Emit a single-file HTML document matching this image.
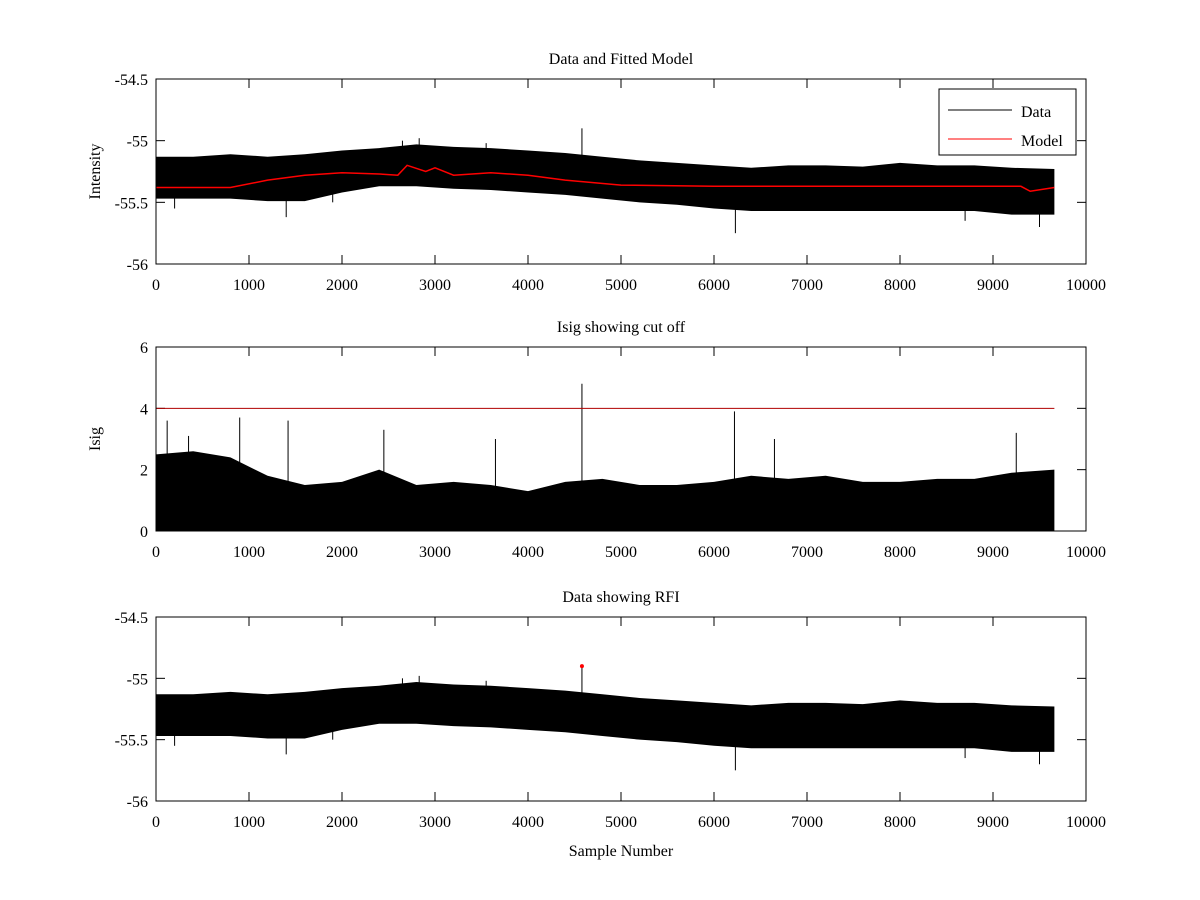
<!DOCTYPE html>
<html><head><meta charset="utf-8"><style>
body{margin:0;background:#fff}
svg{display:block;font-family:"Liberation Serif",serif;font-size:16px}
</style></head><body>
<svg id="chart" width="1200" height="900"></svg>
<script>
const xTicks=[0,1000,2000,3000,4000,5000,6000,7000,8000,9000,10000];
const binX=[0,400,800,1200,1600,2000,2400,2800,3200,3600,4000,4400,4800,5200,5600,6000,6400,6800,7200,7600,8000,8400,8800,9200,9660];
const dataUpper=[-55.13,-55.13,-55.11,-55.13,-55.11,-55.08,-55.06,-55.03,-55.05,-55.06,-55.08,-55.1,-55.13,-55.16,-55.18,-55.2,-55.22,-55.2,-55.2,-55.21,-55.18,-55.2,-55.2,-55.22,-55.23];
const dataLower=[-55.47,-55.47,-55.47,-55.49,-55.49,-55.42,-55.37,-55.37,-55.39,-55.4,-55.42,-55.44,-55.47,-55.5,-55.52,-55.55,-55.57,-55.57,-55.57,-55.57,-55.57,-55.57,-55.57,-55.6,-55.6];
const modelX=[0,800,1200,1600,2000,2400,2600,2700,2900,3000,3200,3600,4000,4400,5000,6000,8000,9300,9400,9660];
const modelY=[-55.38,-55.38,-55.32,-55.28,-55.26,-55.27,-55.28,-55.2,-55.25,-55.22,-55.28,-55.26,-55.28,-55.32,-55.36,-55.37,-55.37,-55.37,-55.41,-55.38];
const spikeX=[4580,6230,1400,2830,9500,2650,3550,200,1900,8700];
const spikeLo=[-55.3,-55.75,-55.62,-55.2,-55.7,-55.2,-55.2,-55.55,-55.5,-55.65];
const spikeHi=[-54.9,-55.4,-55.3,-54.98,-55.4,-55.0,-55.02,-55.3,-55.1,-55.4];
const isigUpper=[2.5,2.6,2.4,1.8,1.5,1.6,2.0,1.5,1.6,1.5,1.3,1.6,1.7,1.5,1.5,1.6,1.8,1.7,1.8,1.6,1.6,1.7,1.7,1.9,2.0];
const isigSpikeX=[4580,6220,120,900,1420,2450,350,3650,6650,9250];
const isigSpikeY=[4.8,3.9,3.6,3.7,3.6,3.3,3.1,3.0,3.0,3.2];
const cutoff=4;
const rfiX=[4580], rfiY=[-54.9];
const intTicks=[-56,-55.5,-55,-54.5], intLabels=["-56","-55.5","-55","-54.5"];
const isigTicks=[0,2,4,6], isigLabels=["0","2","4","6"];

const svg=document.getElementById('chart');
const NS='http://www.w3.org/2000/svg';
function mk(tag,attrs,parent){const e=document.createElementNS(NS,tag);for(const k in attrs)e.setAttribute(k,attrs[k]);(parent||svg).appendChild(e);return e;}
const X0=156,X1=1086;
const sx=v=>X0+(v/10000)*(X1-X0);

function axes(top,bot,ymin,ymax,yt,yl,title,name,ylabel){
  const sy=v=>bot-(v-ymin)/(ymax-ymin)*(bot-top);
  const g=mk('g',{});
  
  
  const t=mk('text',{x:621,y:top-15,'text-anchor':'middle'},g);t.textContent=title;
  
  xTicks.forEach(v=>{const x=sx(v);
    mk('line',{x1:x,x2:x,y1:bot,y2:bot-9,stroke:'#000'},g);
    mk('line',{x1:x,x2:x,y1:top,y2:top+9,stroke:'#000'},g);
    const l=mk('text',{x:x,y:bot+26,'text-anchor':'middle'},g);l.textContent=v;
    });
  yt.forEach((v,i)=>{const y=sy(v);
    mk('line',{x1:X0,x2:X0+9,y1:y,y2:y,stroke:'#000'},g);
    mk('line',{x1:X1,x2:X1-9,y1:y,y2:y,stroke:'#000'},g);
    const l=mk('text',{x:X0-8,y:y+6,'text-anchor':'end'},g);l.textContent=yl[i];
    });
  if(ylabel){const l=mk('text',{x:0,y:0,'text-anchor':'middle',transform:`translate(100,${(top+bot)/2}) rotate(-90)`},g);l.textContent=ylabel;
    }
  return {g,sy,top,bot};
}
function frame(a){const r=mk('rect',{x:X0,y:a.top,width:X1-X0,height:a.bot-a.top,fill:'none',stroke:'#000'},a.g);
  }
function band(a,up,lo,name){
  let p=binX.map((x,i)=>sx(x)+','+a.sy(up[i]));
  p=p.concat(binX.slice().reverse().map((x,i)=>sx(x)+','+a.sy(lo[lo.length-1-i])));
  const e=mk('polygon',{points:p.join(' '),fill:'#000'},a.g);
  
  spikeX.forEach((x,i)=>{const s=mk('line',{x1:sx(x),x2:sx(x),y1:a.sy(spikeLo[i]),y2:a.sy(spikeHi[i]),stroke:'#000'},a.g);
    });
}
const a1=axes(79,264,-56,-54.5,intTicks,intLabels,'Data and Fitted Model','data-model-panel','Intensity');
band(a1,dataUpper,dataLower,'data-series');
const m=mk('polyline',{points:modelX.map((x,i)=>sx(x)+','+a1.sy(modelY[i])).join(' '),fill:'none',stroke:'#f00','stroke-width':1.5},a1.g);

frame(a1);
const lg=mk('g',{},a1.g);
mk('rect',{x:939,y:89,width:137,height:66,fill:'#fff',stroke:'#000'},lg);
mk('line',{x1:948,x2:1012,y1:110,y2:110,stroke:'#000'},lg);
let t=mk('text',{x:1021,y:117},lg);t.textContent='Data';
mk('line',{x1:948,x2:1012,y1:139,y2:139,stroke:'#f00'},lg);
t=mk('text',{x:1021,y:146},lg);t.textContent='Model';
const a2=axes(347,531,0,6,isigTicks,isigLabels,'Isig showing cut off','isig-panel','Isig');
let p2=binX.map((x,i)=>sx(x)+','+a2.sy(isigUpper[i]));
p2.push(sx(binX[binX.length-1])+','+a2.sy(0),sx(0)+','+a2.sy(0));
const ib=mk('polygon',{points:p2.join(' '),fill:'#000'},a2.g);

isigSpikeX.forEach((x,i)=>{const s=mk('line',{x1:sx(x),x2:sx(x),y1:a2.sy(0),y2:a2.sy(isigSpikeY[i]),stroke:'#000'},a2.g);
  });
const cl=mk('line',{x1:sx(0),x2:sx(9660),y1:a2.sy(cutoff),y2:a2.sy(cutoff),stroke:'#b00000'},a2.g);

frame(a2);
const a3=axes(617,801,-56,-54.5,intTicks,intLabels,'Data showing RFI','rfi-panel',null);
band(a3,dataUpper,dataLower,'data-series');
rfiX.forEach((x,i)=>{const c=mk('circle',{cx:sx(x),cy:a3.sy(rfiY[i]),r:2,fill:'#f00'},a3.g);
  });
frame(a3);
t=mk('text',{x:621,y:856,'text-anchor':'middle'});t.textContent='Sample Number';

</script>
</body></html>
